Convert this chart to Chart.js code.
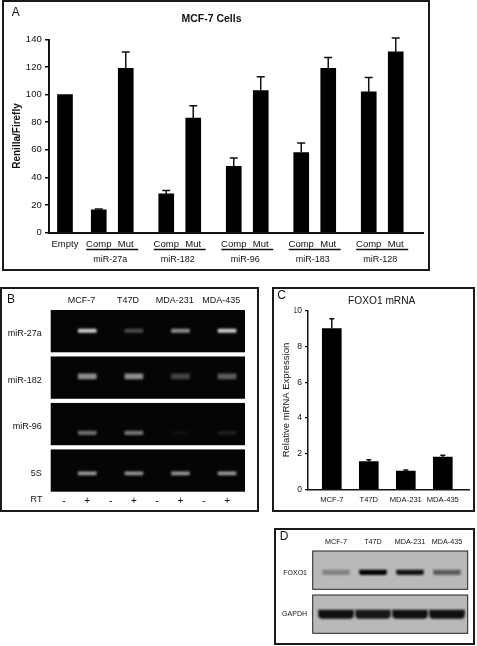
<!DOCTYPE html>
<html>
<head>
<meta charset="utf-8">
<script src="https://cdn.jsdelivr.net/npm/chart.js@4/dist/chart.umd.js"></script>
<style>
html, body { margin: 0; padding: 0; background: #fff; }
#page { position: relative; width: 477px; height: 646px; overflow: hidden; background: #fff; filter: blur(0.35px); }
canvas { position: absolute; }
.box { position: absolute; border: 2px solid #1a1a1a; box-sizing: border-box; }
</style>
</head>
<body>
<div id="page">
  <div class="box" style="left:2px;top:0;width:428px;height:271px"></div>
  <div class="box" style="left:0;top:287px;width:259px;height:225px"></div>
  <div class="box" style="left:272px;top:287px;width:203px;height:225px"></div>
  <div class="box" style="left:274px;top:528px;width:201px;height:117px"></div>
  <canvas id="chartA" style="left:0;top:0" width="430" height="271"></canvas>
  <canvas id="chartB" style="left:0;top:287px" width="259" height="225"></canvas>
  <canvas id="chartC" style="left:262px;top:287px" width="215" height="225"></canvas>
  <canvas id="chartD" style="left:274px;top:524px" width="199" height="121"></canvas>
</div>
<script>
// panel A
const groupNames = ['miR-27a', 'miR-182', 'miR-96', 'miR-183', 'miR-128'];
const emptyValue = 100;
const compValues = [16.5, 28, 48, 58, 102];
const compUpper = [17, 30.5, 54, 65, 112.5];
const mutValues = [119, 83, 103, 119, 131];
const mutUpper = [131, 92, 113, 127, 141];
const yTicksA = [0, 20, 40, 60, 80, 100, 120, 140];

// panel C
const cellLines = ['MCF-7', 'T47D', 'MDA-231', 'MDA-435'];
const foxoValues = [9.0, 1.55, 1.02, 1.8];
const foxoUpper = [9.55, 1.65, 1.08, 1.9];
const yTicksC = [0, 2, 4, 6, 8, 10];

// panel B, band brightness 0-1 per cell line
const gelRows = ['miR-27a', 'miR-182', 'miR-96', '5S'];
const gelBands = [
  [0.8, 0.28, 0.55, 0.8],
  [0.55, 0.55, 0.25, 0.35],
  [0.42, 0.45, 0.04, 0.1],
  [0.6, 0.58, 0.58, 0.6]
];
const rtLabels = ['-', '+', '-', '+', '-', '+', '-', '+'];

// panel D, band darkness 0-1 per cell line
const blotRows = ['FOXO1', 'GAPDH'];
const blotBands = [
  [0.3, 1, 0.9, 0.5],
  [0.92, 0.88, 0.92, 0.92]
];

// where a band sits inside its gel row, and half its thickness (row units)
const gelShift = [-0.01, -0.025, 0.19, 0.06];
const gelHalf = [0.035, 0.055, 0.04, 0.035];
const blotShift = [0.05, 0];
const blotHalf = [0.05, 0.095];

const FONT = '"Liberation Sans", Arial, sans-serif';
const INK = '#111';
Chart.defaults.font.family = FONT;
Chart.defaults.color = INK;

// panel letters and the RT row name
const notesPlugin = {
  id: 'notes',
  afterDraw(chart, args, opts) {
    const ctx = chart.ctx;
    ctx.save();
    ctx.fillStyle = INK;
    ctx.textAlign = 'center';
    ctx.textBaseline = 'middle';
    opts.items.forEach(n => {
      ctx.font = n.size + 'px ' + FONT;
      ctx.fillText(n.text, n.x, n.y);
    });
    ctx.restore();
  }
};

// one sided error bars, cap + stem
const whiskerPlugin = {
  id: 'whiskers',
  afterDatasetsDraw(chart, args, opts) {
    const ctx = chart.ctx;
    const x = chart.scales.x, y = chart.scales.y;
    ctx.save();
    ctx.strokeStyle = INK;
    ctx.lineWidth = 1.5;
    chart.data.datasets.forEach(ds => {
      if (!ds.upper) return;
      ds.data.forEach((p, i) => {
        const px = x.getPixelForValue(p.x);
        const top = y.getPixelForValue(ds.upper[i]);
        ctx.beginPath();
        ctx.moveTo(px, y.getPixelForValue(p.y));
        ctx.lineTo(px, top);
        ctx.moveTo(px - opts.cap, top);
        ctx.lineTo(px + opts.cap, top);
        ctx.stroke();
      });
    });
    ctx.restore();
  }
};

// underline + name below each Comp/Mut pair
const groupLabelPlugin = {
  id: 'groupLabels',
  afterDraw(chart) {
    const ctx = chart.ctx;
    const x = chart.scales.x;
    ctx.save();
    ctx.strokeStyle = INK;
    ctx.fillStyle = INK;
    ctx.lineWidth = 1.5;
    ctx.font = '9px ' + FONT;
    ctx.textAlign = 'center';
    ctx.textBaseline = 'middle';
    groupNames.forEach((name, i) => {
      const c = i + 1 - 0.3;
      ctx.beginPath();
      ctx.moveTo(x.getPixelForValue(c - 0.385), 249.5);
      ctx.lineTo(x.getPixelForValue(c + 0.385), 249.5);
      ctx.stroke();
      ctx.fillText(name, x.getPixelForValue(c - 0.03), 260);
    });
    ctx.restore();
  }
};

// gel background + blurred bands
const gelPlugin = {
  id: 'gel',
  beforeDatasetsDraw(chart, args, opts) {
    const ctx = chart.ctx;
    const y = chart.scales.y;
    const a = chart.chartArea;
    ctx.save();
    opts.rows.forEach((r, i) => {
      const top = y.getPixelForValue(i - opts.half);
      const bottom = y.getPixelForValue(i + opts.half);
      ctx.fillStyle = opts.background;
      ctx.fillRect(a.left, top, a.right - a.left, bottom - top);
      if (opts.edge) {
        ctx.strokeStyle = opts.edge;
        ctx.lineWidth = 1;
        ctx.strokeRect(a.left, top, a.right - a.left, bottom - top);
      }
    });
    ctx.restore();
    ctx.filter = 'blur(' + opts.blur + 'px)';
  },
  afterDatasetsDraw(chart) {
    chart.ctx.filter = 'none';
  }
};

function fixedAxis(ticks, label, size, padding) {
  return {
    afterBuildTicks(axis) { axis.ticks = ticks.map(v => ({ value: v })); },
    ticks: { autoSkip: false, maxRotation: 0, minRotation: 0, callback: label, font: { size }, padding }
  };
}
const noGrid = { display: false, drawTicks: false };

// panel A chart
new Chart(document.getElementById('chartA'), {
  type: 'bar',
  data: {
    datasets: [
      { label: 'Empty', data: [{ x: 0, y: emptyValue }] },
      { label: 'Comp', data: compValues.map((v, i) => ({ x: i + 0.5, y: v })), upper: compUpper },
      { label: 'Mut', data: mutValues.map((v, i) => ({ x: i + 0.9, y: v })), upper: mutUpper }
    ]
  },
  plugins: [whiskerPlugin, groupLabelPlugin, notesPlugin],
  options: {
    responsive: false,
    animation: false,
    grouped: false,
    barThickness: 15,
    backgroundColor: '#000',
    layout: { padding: { left: 0, right: 7, top: 0, bottom: 0 } },
    plugins: {
      legend: { display: false },
      tooltip: { enabled: false },
      whiskers: { cap: 4 },
      notes: { items: [{ text: 'A', x: 15.7, y: 13, size: 12 }] },
      title: {
        display: true,
        text: 'MCF-7 Cells',
        color: INK,
        font: { family: FONT, size: 10.5, weight: 'bold' },
        padding: { top: 12.5, bottom: 14.4 }
      }
    },
    scales: {
      x: {
        type: 'linear',
        offset: false,
        min: -0.237,
        max: 5.304,
        grid: noGrid,
        border: { color: INK, width: 2 },
        afterFit(axis) { axis.height = 38.5; },
        ...fixedAxis([0, 0.5, 0.9, 1.5, 1.9, 2.5, 2.9, 3.5, 3.9, 4.5, 4.9],
          v => (v === 0 ? 'Empty' : (Math.round(v * 10) % 10 === 5 ? 'Comp' : 'Mut')), 9.5, 6)
      },
      y: {
        min: 0,
        max: 140,
        border: { color: INK, width: 2 },
        grid: { drawOnChartArea: false, color: INK, lineWidth: 1.5, tickLength: 4 },
        title: {
          display: true,
          text: 'Renilla/Firefly',
          color: INK,
          font: { family: FONT, size: 10, weight: 'bold' },
          padding: { top: 11, bottom: 0 }
        },
        afterFit(axis) { axis.width = 49; },
        ...fixedAxis(yTicksA, v => v, 9.5, 3.3)
      }
    }
  }
});

// panel C chart
new Chart(document.getElementById('chartC'), {
  type: 'bar',
  data: {
    datasets: [
      { label: 'FOXO1', data: foxoValues.map((v, i) => ({ x: i, y: v })), upper: foxoUpper }
    ]
  },
  plugins: [whiskerPlugin, notesPlugin],
  options: {
    responsive: false,
    animation: false,
    grouped: false,
    barThickness: 19,
    backgroundColor: '#000',
    // asymmetric padding keeps the title centred where the original has it
    layout: { padding: { left: 32.4, right: 8, top: 0, bottom: 0 } },
    plugins: {
      legend: { display: false },
      tooltip: { enabled: false },
      whiskers: { cap: 2.5 },
      notes: { items: [{ text: 'C', x: 19.7, y: 9, size: 12 }] },
      title: {
        display: true,
        text: 'FOXO1 mRNA',
        color: INK,
        font: { family: FONT, size: 10.2, weight: 'normal' },
        padding: { top: 8, bottom: 3.5 }
      }
    },
    scales: {
      x: {
        type: 'linear',
        offset: false,
        min: -0.643,
        max: 3.708,
        grid: noGrid,
        border: { color: INK, width: 1.5 },
        afterFit(axis) { axis.height = 22.7; },
        ...fixedAxis([0, 1, 2, 3], v => cellLines[v], 7.6, 5.8)
      },
      y: {
        min: 0,
        max: 10,
        border: { color: INK, width: 1.5 },
        grid: { drawOnChartArea: false, color: INK, lineWidth: 1.2, tickLength: 3 },
        title: {
          display: true,
          text: 'Relative mRNA Expression',
          color: INK,
          font: { family: FONT, size: 9.5 },
          padding: { top: -13.7, bottom: 0 }
        },
        afterFit(axis) { axis.width = 13.6; },
        ...fixedAxis(yTicksC, v => v, 8.5, 3)
      }
    }
  }
});

// panel B chart, lanes on x, gel rows on y
const laneHeaders = cellLines.map((name, i) => ({ name, value: 2 * i + 0.75 }));
new Chart(document.getElementById('chartB'), {
  type: 'bar',
  data: {
    datasets: gelRows.map((name, r) => ({
      label: name,
      barThickness: 18,
      data: gelBands[r].map((b, i) => ({
        x: 2 * i + 1,
        y: [r + gelShift[r] - gelHalf[r], r + gelShift[r] + gelHalf[r]]
      })),
      backgroundColor: gelBands[r].map(b => 'rgba(255,255,255,' + b + ')'),
      borderRadius: 1
    }))
  },
  plugins: [gelPlugin, notesPlugin],
  options: {
    responsive: false,
    animation: false,
    grouped: false,
    layout: { padding: { left: 0, right: 14, top: 0, bottom: 0 } },
    plugins: {
      legend: { display: false },
      tooltip: { enabled: false },
      gel: { rows: gelRows, half: 0.455, background: '#050505', blur: 1.2 },
      notes: { items: [
        { text: 'B', x: 11, y: 12.7, size: 12 },
        { text: 'RT', x: 36.5, y: 213, size: 9 }
      ] }
    },
    scales: {
      x: {
        type: 'linear',
        offset: false,
        min: -0.57,
        max: 7.77,
        grid: noGrid,
        border: { display: false },
        afterFit(axis) { axis.height = 20.3; },
        ...fixedAxis([0, 1, 2, 3, 4, 5, 6, 7], v => rtLabels[v], 10, 3.5)
      },
      x2: {
        type: 'linear',
        position: 'top',
        offset: false,
        min: -0.57,
        max: 7.77,
        grid: noGrid,
        border: { display: false },
        afterFit(axis) { axis.height = 23; },
        ...fixedAxis(laneHeaders.map(h => h.value), v => laneHeaders.find(h => h.value === v).name, 9, 4.5)
      },
      y: {
        reverse: true,
        min: -0.455,
        max: 3.455,
        grid: noGrid,
        border: { display: false },
        afterFit(axis) { axis.width = 50.7; },
        ...fixedAxis([0.06, 1.06, 2.06, 3.06], v => gelRows[Math.round(v - 0.06)], 9, 9)
      }
    }
  }
});

// panel D chart
new Chart(document.getElementById('chartD'), {
  type: 'bar',
  data: {
    datasets: blotRows.map((name, r) => ({
      label: name,
      barThickness: r === 0 ? 27 : 35,
      data: blotBands[r].map((b, i) => ({
        x: i,
        y: [r + blotShift[r] - blotHalf[r], r + blotShift[r] + blotHalf[r]]
      })),
      backgroundColor: blotBands[r].map(b => 'rgba(0,0,0,' + b + ')'),
      borderRadius: r === 0 ? 2 : 4
    }))
  },
  plugins: [gelPlugin, notesPlugin],
  options: {
    responsive: false,
    animation: false,
    grouped: false,
    layout: { padding: { left: 0, right: 5.3, top: 0, bottom: 11.7 } },
    plugins: {
      legend: { display: false },
      tooltip: { enabled: false },
      gel: { rows: blotRows, half: 0.435, background: '#b9b9b9', edge: '#222', blur: 1.3 },
      notes: { items: [{ text: 'D', x: 10, y: 12.7, size: 12 }] }
    },
    scales: {
      x: {
        type: 'linear',
        position: 'top',
        offset: false,
        min: -0.63,
        max: 3.56,
        grid: noGrid,
        border: { display: false },
        afterFit(axis) { axis.height = 27; },
        ...fixedAxis([0, 1, 2, 3], v => cellLines[v], 7.2, 5)
      },
      y: {
        reverse: true,
        min: -0.435,
        max: 1.435,
        grid: noGrid,
        border: { display: false },
        afterFit(axis) { axis.width = 38.7; },
        ...fixedAxis([0.07, 1], v => blotRows[Math.round(v)], 7, 5.7)
      }
    }
  }
});
</script>
</body>
</html>
